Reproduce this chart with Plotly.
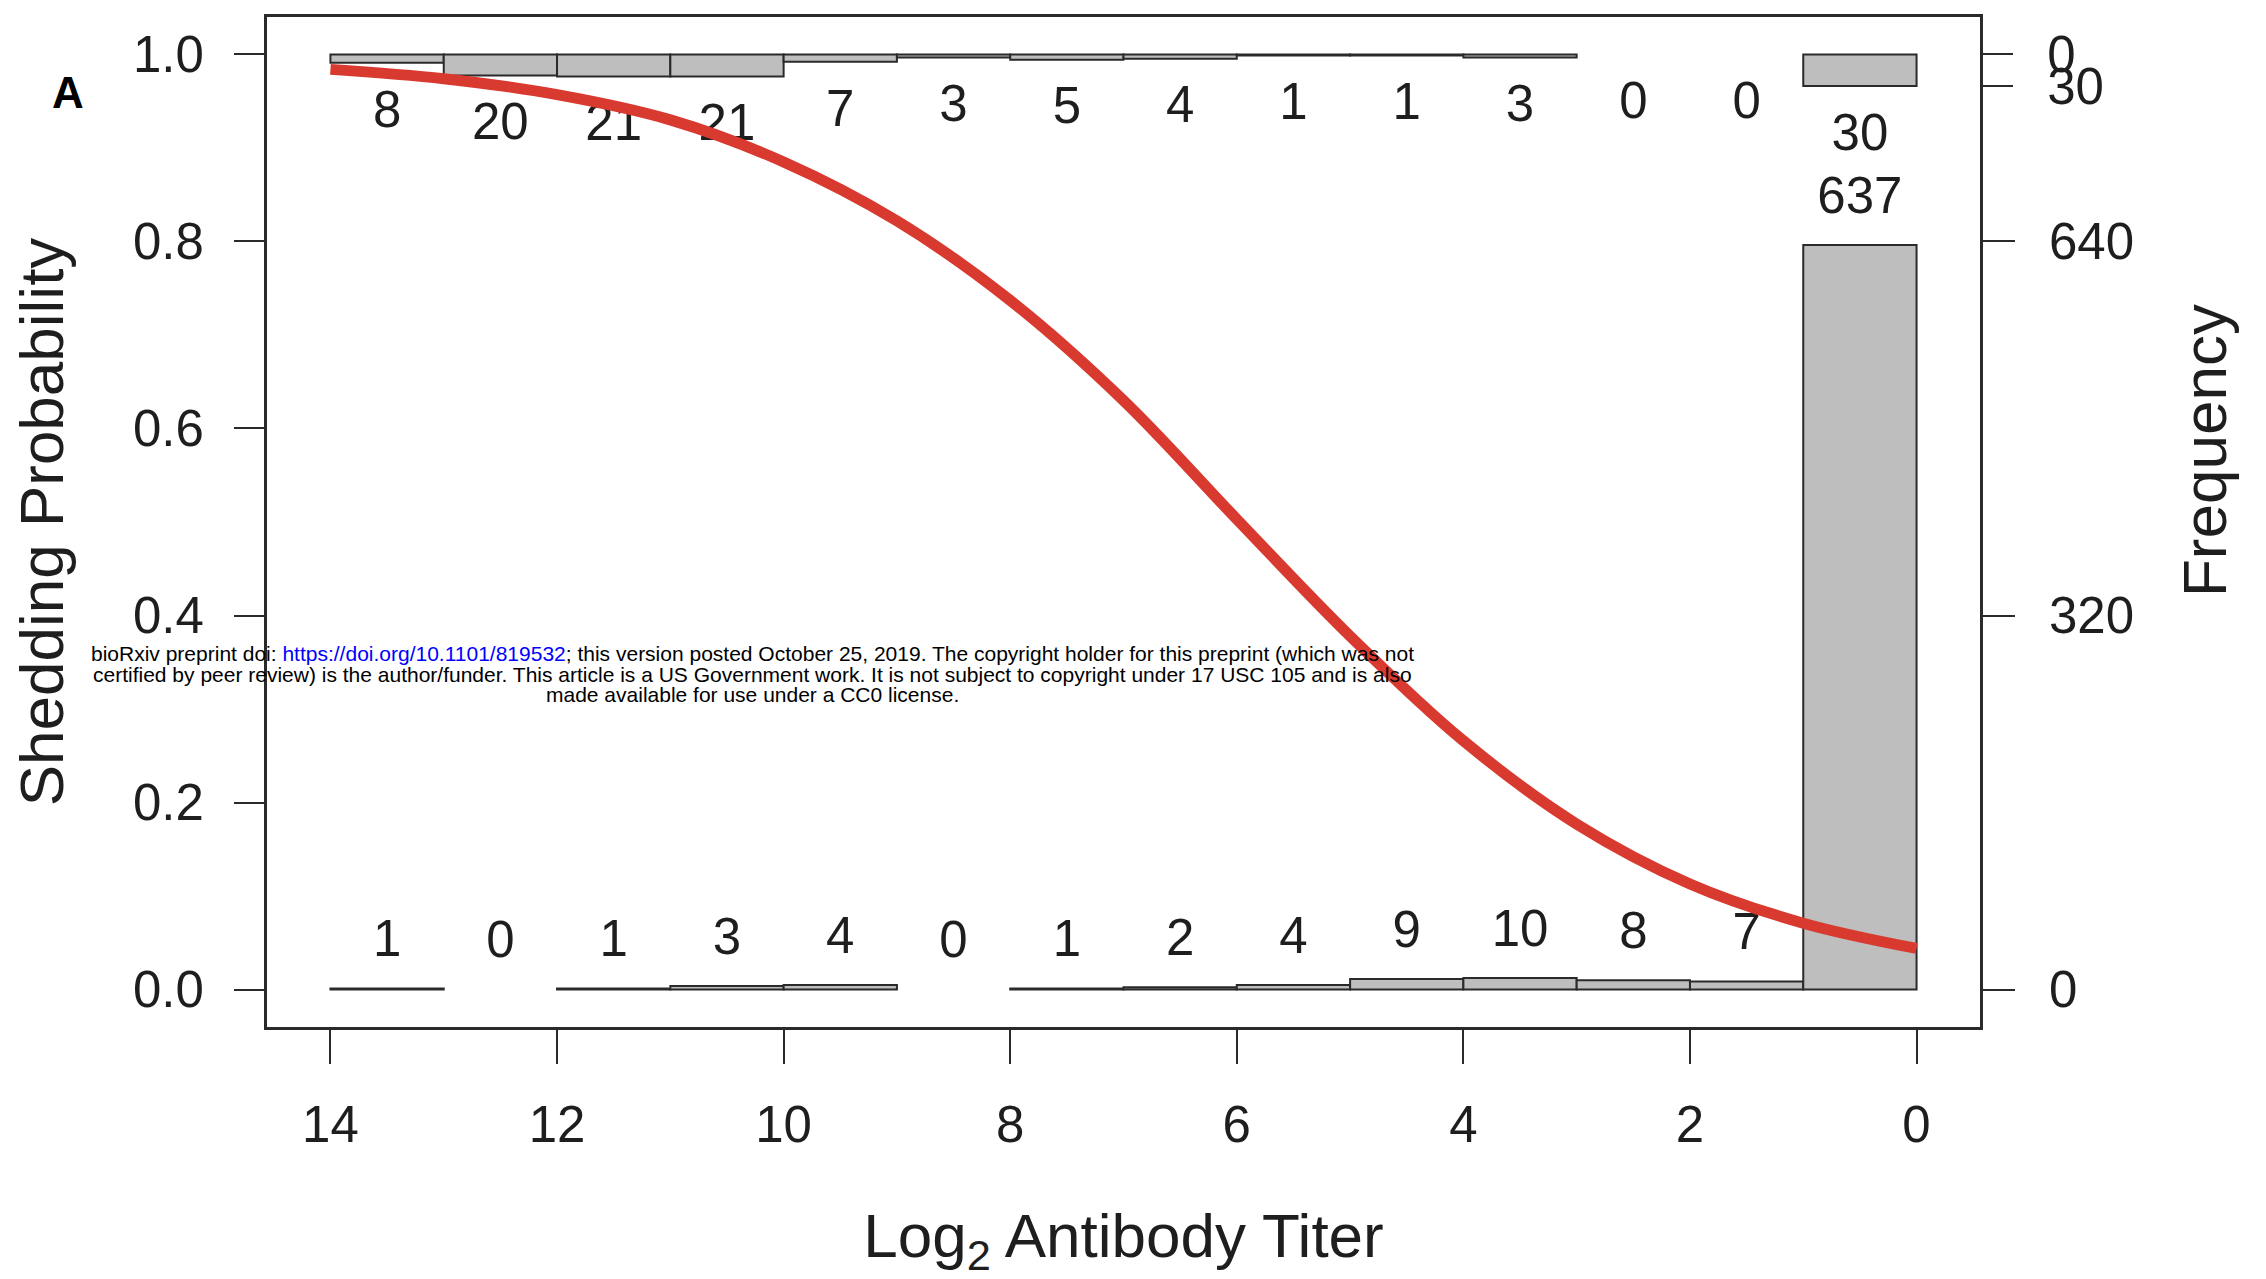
import plotly.graph_objects as go

# ---------------- data ----------------
bin_left = [14, 13, 12, 11, 10, 9, 8, 7, 6, 5, 4, 3, 2, 1]
bin_right = [13, 12, 11, 10, 9, 8, 7, 6, 5, 4, 3, 2, 1, 0]
top_counts = [8, 20, 21, 21, 7, 3, 5, 4, 1, 1, 3, 0, 0, 30]          # shedders
bottom_counts = [1, 0, 1, 3, 4, 0, 1, 2, 4, 9, 10, 8, 7, 637]        # non-shedders

curve_titer = [14, 13, 12, 11, 10, 9, 8, 7, 6, 5, 4, 3, 2, 1, 0]
curve_prob = [0.984, 0.974, 0.957, 0.930, 0.885, 0.822, 0.737, 0.630,
              0.503, 0.378, 0.266, 0.177, 0.113, 0.071, 0.044]

x_ticks = [14, 12, 10, 8, 6, 4, 2, 0]
prob_ticks = [0.0, 0.2, 0.4, 0.6, 0.8, 1.0]
bottom_freq_ticks = [0, 320, 640]
top_freq_ticks = [0, 30]

# ---------------- layout geometry ----------------
W, H = 2266, 1279
L, R, T, B = 267, 1980, 17, 1027          # plot box in px
PROB_RANGE = [-0.04, 1.04]
plot_h = B - T
px_per_prob = plot_h / (PROB_RANGE[1] - PROB_RANGE[0])
p1_px = T + (PROB_RANGE[1] - 1.0) * px_per_prob   # pixel row of prob 1.0

BOTTOM_SCALE = 800.0          # counts per probability unit (bottom histogram)
BOTTOM_RANGE = [PROB_RANGE[0] * BOTTOM_SCALE, PROB_RANGE[1] * BOTTOM_SCALE]
TOP_PX_PER_COUNT = 1.055      # top histogram pixel scale
TOP_RANGE = [(B - p1_px) / TOP_PX_PER_COUNT, -(p1_px - T) / TOP_PX_PER_COUNT]
BOTTOM_PX_PER_COUNT = px_per_prob / BOTTOM_SCALE

TOP_LABEL_SHIFT = 51 / TOP_PX_PER_COUNT
BOTTOM_LABEL_SHIFT = 45 / BOTTOM_PX_PER_COUNT

FONT = "Liberation Sans, Arial, Helvetica, sans-serif"
INK = "#1e1e1e"
LINE = "#2a2a2a"
BAR_FILL = "#BEBEBE"
RED = "#D93A30"
TICK_SIZE = 51
TITLE_SIZE = 62


def px2paper(px, py):
    return (px - L) / (R - L), (B - py) / (B - T)


centers = [(a + b) / 2 for a, b in zip(bin_left, bin_right)]

fig = go.Figure()

# bottom histogram (main y axis, right side)
bx = [c for c, n in zip(centers, bottom_counts) if n > 0]
by = [n for n in bottom_counts if n > 0]
fig.add_trace(go.Bar(x=bx, y=by, width=1.0, xaxis="x", yaxis="y",
                     marker=dict(color=BAR_FILL, line=dict(color=LINE, width=2)),
                     showlegend=False, hoverinfo="skip"))
fig.add_trace(go.Scatter(x=centers, y=[n + BOTTOM_LABEL_SHIFT for n in bottom_counts],
                         text=[str(n) for n in bottom_counts], mode="text",
                         textposition="middle center", xaxis="x", yaxis="y",
                         textfont=dict(family=FONT, size=TICK_SIZE, color=INK),
                         showlegend=False, hoverinfo="skip"))

# top histogram (reversed overlay axis)
tx = [c for c, n in zip(centers, top_counts) if n > 0]
ty = [n for n in top_counts if n > 0]
fig.add_trace(go.Bar(x=tx, y=ty, width=1.0, xaxis="x", yaxis="y2",
                     marker=dict(color=BAR_FILL, line=dict(color=LINE, width=2)),
                     showlegend=False, hoverinfo="skip"))
fig.add_trace(go.Scatter(x=centers, y=[n + TOP_LABEL_SHIFT for n in top_counts],
                         text=[str(n) for n in top_counts], mode="text",
                         textposition="middle center", xaxis="x", yaxis="y2",
                         textfont=dict(family=FONT, size=TICK_SIZE, color=INK),
                         showlegend=False, hoverinfo="skip"))

# fitted logistic curve
fig.add_trace(go.Scatter(x=curve_titer, y=curve_prob, mode="lines", xaxis="x", yaxis="y3",
                         line=dict(color=RED, width=11, shape="spline", smoothing=1.0),
                         showlegend=False, hoverinfo="skip"))

tickfont = dict(family=FONT, size=TICK_SIZE, color=INK)

fig.update_layout(
    width=W, height=H,
    margin=dict(l=L, r=W - R, t=T, b=H - B, pad=0),
    paper_bgcolor="white", plot_bgcolor="white",
    barmode="overlay",
    font=dict(family=FONT, color=INK),
    xaxis=dict(range=[14.56, -0.56], tickvals=x_ticks, ticks="outside", ticklen=34,
               tickwidth=2, tickcolor=LINE, showline=True, mirror=True, linewidth=2.5,
               linecolor=LINE, showgrid=False, zeroline=False, tickfont=tickfont,
               ticklabelstandoff=17,
               title=dict(text="Log<sub>2</sub> Antibody Titer",
                          font=dict(family=FONT, size=TITLE_SIZE, color=INK), standoff=63)),
    yaxis=dict(range=BOTTOM_RANGE, side="right", tickvals=bottom_freq_ticks, ticks="outside",
               ticklen=32, tickwidth=2, tickcolor=LINE, showline=True, mirror=True,
               linewidth=2.5, linecolor=LINE, showgrid=False, zeroline=False,
               tickfont=tickfont, ticklabelstandoff=24),
    yaxis2=dict(range=TOP_RANGE, side="right", overlaying="y", anchor="x",
                tickvals=top_freq_ticks, ticks="outside", ticklen=32, tickwidth=2,
                tickcolor=LINE, showline=False, showgrid=False, zeroline=False,
                tickfont=tickfont, ticklabelstandoff=24),
    yaxis3=dict(range=PROB_RANGE, side="left", overlaying="y", anchor="x",
                tickvals=prob_ticks, tickformat=".1f", ticks="outside", ticklen=32,
                tickwidth=2, tickcolor=LINE, showline=False, showgrid=False,
                zeroline=False, tickfont=tickfont, ticklabelstandoff=20,
                title=dict(text="Shedding Probability",
                           font=dict(family=FONT, size=TITLE_SIZE, color=INK), standoff=49)),
)

annotations = []
fx, fy = px2paper(2204, 451)
annotations.append(dict(text="Frequency", x=fx, y=fy, xref="paper", yref="paper",
                        textangle=-90, showarrow=False, xanchor="center", yanchor="middle",
                        font=dict(family=FONT, size=TITLE_SIZE, color=INK)))
ax_, ay_ = px2paper(68, 93)
annotations.append(dict(text="<b>A</b>", x=ax_, y=ay_, xref="paper", yref="paper",
                        showarrow=False, xanchor="center", yanchor="middle",
                        font=dict(family=FONT, size=44, color="black")))

wm_lines = [
    "bioRxiv preprint doi: <span style='color:#0000FF'>https://doi.org/10.1101/819532</span>; "
    "this version posted October 25, 2019. The copyright holder for this preprint (which was not",
    "certified by peer review) is the author/funder. This article is a US Government work. "
    "It is not subject to copyright under 17 USC 105 and is also",
    "made available for use under a CC0 license.",
]
for line, py in zip(wm_lines, [653, 674, 695]):
    wx, wy = px2paper(752, py)
    annotations.append(dict(text=line, x=wx, y=wy, xref="paper", yref="paper",
                            showarrow=False, xanchor="center", yanchor="middle",
                            font=dict(family=FONT, size=21, color="black")))
fig.update_layout(annotations=annotations)

fig.write_html("out.html")
